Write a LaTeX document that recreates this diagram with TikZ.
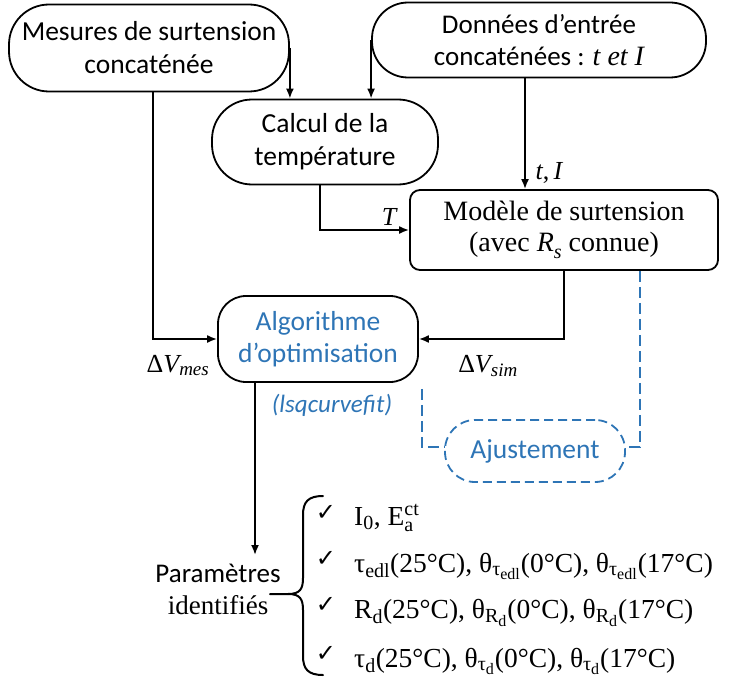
\documentclass[tikz,border=0pt]{standalone}
\usepackage{fontspec}
\usepackage{amsmath}
\setmainfont{Carlito}
\newfontfamily\serif{Liberation Serif}
\newfontfamily\dejavu{DejaVu Sans}
\usetikzlibrary{arrows.meta}
\definecolor{wblue}{RGB}{46,117,182}
\DeclareMathSizes{26}{26}{19}{15}
\DeclareMathSizes{27.5}{27.5}{20}{16}
\newcommand\mi[1]{\text{\itshape #1}}
\newcommand\mr[1]{\text{\upshape #1}}
\begin{document}
\begin{tikzpicture}[x=1pt,y=-1pt,
  box/.style={draw, line width=1.8pt, align=center, inner sep=0pt, font=\fontsize{27.5}{33}\selectfont},
  arr/.style={line width=1.8pt, -{Latex[length=10pt,width=8pt]}},
  dsh/.style={draw=wblue, line width=1.8pt, dash pattern=on 11pt off 5pt},
  brc/.style={line width=2pt, line cap=round},
  lbl/.style={inner sep=0pt, font=\serif\fontsize{26}{30}\selectfont},
  item/.style={inner sep=0pt, anchor=base west, font=\serif\fontsize{27.5}{30}\selectfont},
  chk/.style={inner sep=0pt, anchor=base, font=\dejavu\fontsize{24}{26}\selectfont}]
\useasboundingbox (0,0) rectangle (730,682);
\node[box, minimum width=280pt, minimum height=87pt, rounded corners=40pt] (b1) at (149,48) {Mesures de surtension\\concaténée};
\node[box, minimum width=334pt, minimum height=75pt, rounded corners=36pt, font=\fontsize{27}{32}\selectfont] (b2) at (539,40) {Données d’entrée\\concaténées : {\serif\itshape\fontsize{28}{32}\selectfont t et I}};
\node[box, minimum width=226pt, minimum height=85pt, rounded corners=40pt] (b3) at (325,142) {Calcul de la\\température};
\node[box, minimum width=308pt, minimum height=80pt, rounded corners=10pt, font=\serif\fontsize{28}{31}\selectfont] (b4) at (564,230) {Modèle de surtension\\(avec \textit{R}\raisebox{-0.25em}{\fontsize{20}{20}\selectfont\itshape s} connue)};
\node[box, minimum width=200pt, minimum height=86pt, rounded corners=28pt, text=wblue, font=\fontsize{27.5}{32}\selectfont] (b5) at (318,339) {Algorithme\\d’optimisation};
\node[box, draw=wblue, dash pattern=on 9pt off 5pt, minimum width=180pt, minimum height=62pt, rounded corners=30pt, text=wblue] (aj) at (535,451) {Ajustement};
\node[inner xsep=0pt, inner ysep=9pt, anchor=north, align=center, font=\fontsize{27}{32}\selectfont] (par) at (218,555) {Paramètres\\{\serif identifiés}};
% connectors
\draw[arr] (b1.east) -- (b1.east |- b3.north);
\draw[arr] (b2.west) -- (b2.west |- b3.north);
\coordinate (c2) at ([xshift=-14pt]b2.south);
\draw[arr] (c2) -- (c2 |- b4.north);
\coordinate (c3) at ([xshift=-5pt]b3.south);
\draw[arr] (c3) |- (b4.west);
\coordinate (c1) at ([xshift=4pt]b1.south);
\draw[arr] (c1) |- (b5.west);
\draw[arr] (b4.south) |- (b5.east);
\coordinate (c5) at ([xshift=-63pt]b5.south);
\draw[arr] (c5) -- (c5 |- par.north);
% dashed
\coordinate (d1) at ([xshift=3pt,yshift=-6pt]b5.south east);
\draw[dsh] (d1) |- ([yshift=4pt]aj.west);
\coordinate (d2) at ([xshift=76pt]b4.south);
\draw[dsh] (d2) |- ([yshift=4pt]aj.east);
% labels
\node[lbl, anchor=base] (lt) at (549,179) {$\mi{t}\mr{,}\,\mi{I}$};
\node[lbl, anchor=base] (lT) at (389,225) {$\mi{T}$};
\node[lbl, anchor=base] (lm) at (178,372) {$\mr{Δ}\mi{V}_{\mi{mes}}$};
\node[lbl, anchor=base] (ls) at (488,372) {$\mr{Δ}\mi{V}_{\mi{sim}}$};
\node[inner sep=0pt, anchor=base, text=wblue, font=\itshape\fontsize{25}{28}\selectfont] (lq) at (332,412) {(lsqcurvefit)};
% brace
\draw[brc] (323,496) .. controls (308,496) and (303,502) .. (303,515) -- (303,578) .. controls (303,589) and (300,594) .. (288,594) -- (270,594);
\draw[brc] (323,675) .. controls (308,675) and (303,669) .. (303,656) -- (303,610) .. controls (303,599) and (300,594) .. (288,594);
% list
\node[chk] (k1) at (326,520) {✓};
\node[chk] (k2) at (326,566) {✓};
\node[chk] (k3) at (326,612) {✓};
\node[chk] (k4) at (326,661) {✓};
\node[item] (i1) at (354,525) {I$_{\mr{0}}$, E$^{\mr{ct}}_{\mr{a}}$};
\node[item] (i2) at (354,572) {τ$_{\mr{edl}}$(25°C), θ$_{\mr{τ}_{\mr{edl}}}$(0°C), θ$_{\mr{τ}_{\mr{edl}}}$(17°C)};
\node[item] (i3) at (354,618) {R$_{\mr{d}}$(25°C), θ$_{\mr{R}_{\mr{d}}}$(0°C), θ$_{\mr{R}_{\mr{d}}}$(17°C)};
\node[item] (i4) at (354,667) {τ$_{\mr{d}}$(25°C), θ$_{\mr{τ}_{\mr{d}}}$(0°C), θ$_{\mr{τ}_{\mr{d}}}$(17°C)};
\end{tikzpicture}
\end{document}
